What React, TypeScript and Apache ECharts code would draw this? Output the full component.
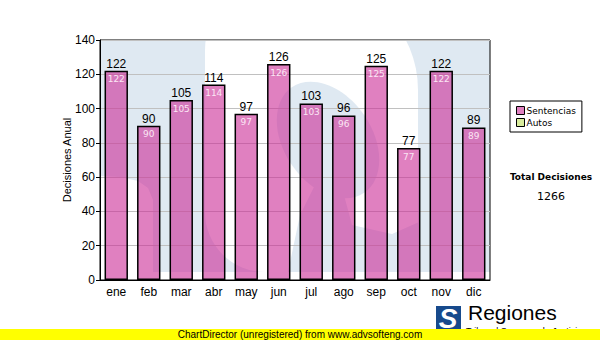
import React, { useEffect, useRef } from "react";
import * as echarts from "echarts";

const categories = ["ene", "feb", "mar", "abr", "may", "jun", "jul", "ago", "sep", "oct", "nov", "dic"];
const sentencias = [122, 90, 105, 114, 97, 126, 103, 96, 125, 77, 122, 89];
const autos: number[] = [];
const yTicks = { min: 0, max: 140, interval: 20 };
const totalLabel = "Total Decisiones";
const totalValue = "1266";

const LB = "#dfe9f2";

export default function App() {
  const ref = useRef<HTMLDivElement>(null);
  useEffect(() => {
    if (!ref.current) return;
    const chart = echarts.init(ref.current, null, { renderer: "svg" });
    chart.setOption({
      animation: false,
      backgroundColor: "#ffffff",
      grid: { left: 100, top: 40, right: 110, bottom: 60, show: true, borderColor: "#000", borderWidth: 1, backgroundColor: "transparent" },
      legend: {
        data: [
          { name: "Sentencias", icon: "rect", itemStyle: { color: "#e080c0", borderColor: "#000", borderWidth: 1 } },
          { name: "Autos", icon: "rect", itemStyle: { color: "#d8ec9c", borderColor: "#000", borderWidth: 1 } },
        ],
        orient: "vertical",
        left: 510,
        top: 101,
        itemWidth: 8,
        itemHeight: 8,
        itemGap: 3,
        padding: [5, 6, 5, 6],
        borderColor: "#000",
        borderWidth: 1,
        textStyle: { fontFamily: "DejaVu Sans", fontSize: 9, color: "#000", padding: [0, 0, 0, -3] },
      },
      xAxis: {
        type: "category",
        data: categories,
        axisLine: { lineStyle: { color: "#000", width: 1 } },
        axisTick: { alignWithLabel: true, length: 4, lineStyle: { color: "#000" } },
        axisLabel: { color: "#000", fontFamily: "Liberation Sans", fontSize: 12, margin: 6 },
      },
      yAxis: {
        type: "value",
        min: yTicks.min,
        max: yTicks.max,
        interval: yTicks.interval,
        name: "Decisiones Anual",
        nameLocation: "middle",
        nameRotate: 90,
        nameGap: 28,
        nameMoveOverlap: false,
        nameTextStyle: { color: "#000", fontFamily: "Liberation Sans", fontSize: 11 },
        axisLine: { show: true, lineStyle: { color: "#000", width: 1 } },
        axisTick: { show: true, length: 4, lineStyle: { color: "#000" } },
        axisLabel: { color: "#000", fontFamily: "Liberation Sans", fontSize: 12, margin: 5 },
        splitLine: { lineStyle: { color: "#c0c0c0", width: 1 } },
      },
      series: [
        {
          name: "Sentencias",
          type: "bar",
          data: sentencias,
          barCategoryGap: "28%",
          barGap: "-100%",
          itemStyle: { color: "rgba(203,43,150,0.6)", borderColor: "#000", borderWidth: 1.5 },
          label: { show: true, position: "top", distance: 1, color: "#000", fontFamily: "Liberation Sans", fontSize: 12 },
          z: 3,
        },
        {
          name: "inner",
          type: "bar",
          data: sentencias,
          barCategoryGap: "28%",
          barGap: "-100%",
          itemStyle: { color: "transparent", borderWidth: 0 },
          label: { show: true, position: "insideTop", distance: 4, color: "#fbe6f4", fontFamily: "DejaVu Sans", fontSize: 9 },
          z: 4,
          silent: true,
        },
        { name: "Autos", type: "line", data: autos },
      ],
      graphic: [
        // watermark
        {
          type: "polygon", z: -100, silent: true,
          shape: { points: [[100, 40], [490, 40], [490, 272], [153, 272], [153, 200], [148, 188], [138, 181], [120, 177], [100, 176]] },
          style: { fill: LB },
        },
        {
          type: "rect", z: -99, silent: true,
          shape: { x: 205, y: -20, width: 213, height: 292, r: [70, 110, 30, 60] },
          style: { fill: "#ffffff" },
        },
        {
          type: "ellipse", z: -98, silent: true,
          x: 328, y: 140, rotation: 0.6,
          shape: { cx: 0, cy: 0, rx: 44, ry: 64 },
          style: { fill: LB },
        },
        {
          type: "polygon", z: -98, silent: true,
          shape: { points: [[288, 272], [300, 215], [315, 185], [340, 180], [352, 225], [392, 234], [419, 222], [419, 272]] },
          style: { fill: LB },
        },
        // side texts
        {
          type: "text", x: 551, y: 172, silent: true,
          style: { text: totalLabel, font: "bold 9px 'DejaVu Sans'", fill: "#000", align: "center" },
        },
        {
          type: "text", x: 551, y: 191, silent: true,
          style: { text: totalValue, font: "11px 'DejaVu Sans'", fill: "#000", align: "center" },
        },
        // logo
        {
          type: "rect", silent: true,
          shape: { x: 436, y: 306, width: 25, height: 24 },
          style: { fill: "#174a8c" },
        },
        {
          type: "text", silent: true, x: 448, y: 318,
          style: { text: "S", font: "italic bold 28px 'Liberation Sans'", fill: "#fff", align: "center", verticalAlign: "middle" },
        },
        {
          type: "text", silent: true, x: 468, y: 302,
          style: { text: "Regiones", font: "21px 'Liberation Sans'", fill: "#000" },
        },
        {
          type: "text", silent: true, x: 466, y: 326,
          style: { text: "Tribunal Supremo de Justicia", font: "9px 'Liberation Sans'", fill: "#000" },
        },
        // yellow bar
        {
          type: "rect", silent: true, z: 50,
          shape: { x: 0, y: 329, width: 600, height: 11 },
          style: { fill: "#ffff00" },
        },
        {
          type: "text", silent: true, z: 51, x: 300, y: 334.5,
          style: { text: "ChartDirector (unregistered) from www.advsofteng.com", font: "10px 'Liberation Sans'", fill: "#000", align: "center", verticalAlign: "middle" },
        },
      ],
    });
    return () => chart.dispose();
  }, []);
  return <div ref={ref} style={{ position: "fixed", left: 0, top: 0, width: 600, height: 340 }} />;
}
